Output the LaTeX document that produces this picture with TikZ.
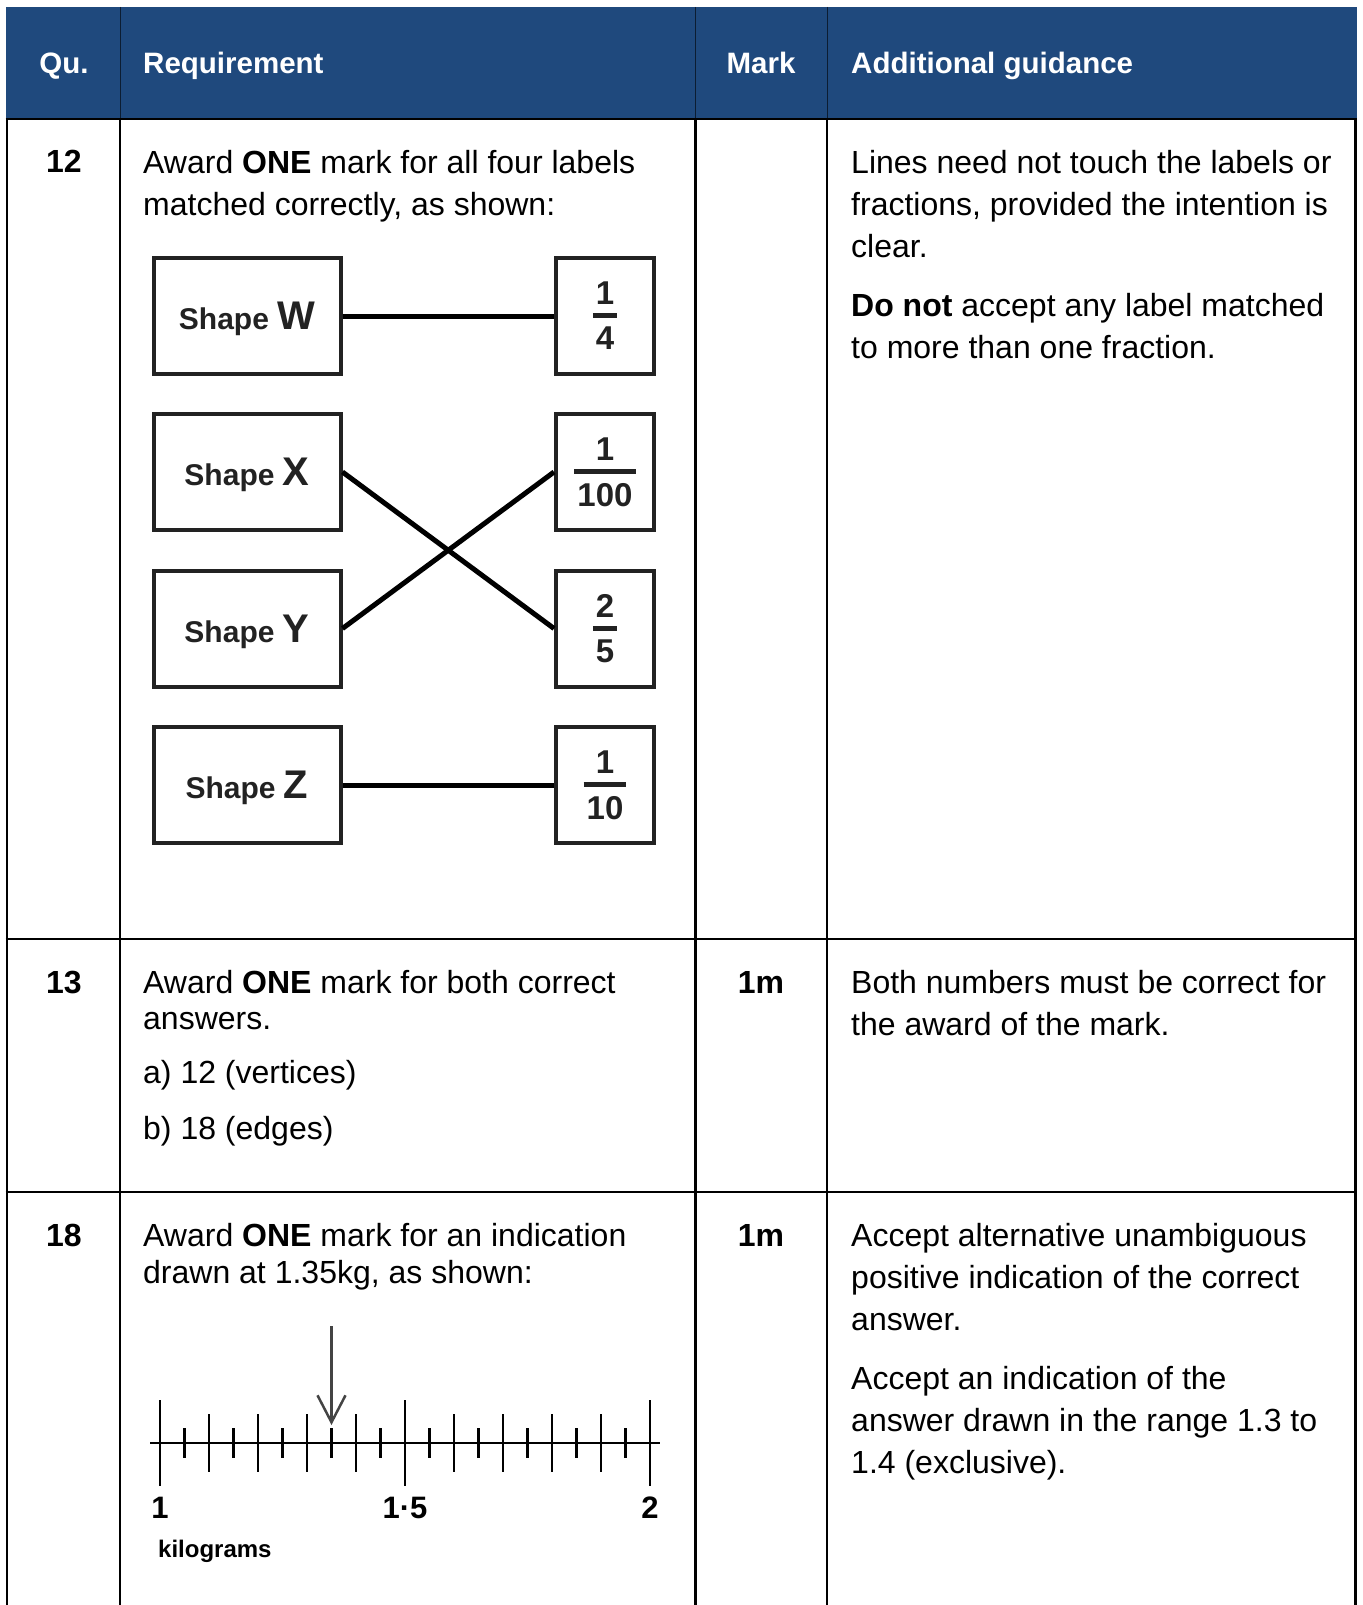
\documentclass[tikz,border=0pt]{standalone}
\usepackage{fontspec}
\setmainfont{Liberation Sans}
\usetikzlibrary{arrows.meta}
\definecolor{hdrblue}{HTML}{1F497D}
\definecolor{inkgray}{HTML}{222222}
\definecolor{arrowgray}{HTML}{444444}

% fraction with a thick bar, as on the matching cards
\newcommand\stackfrac[2]{%
  \setbox0=\hbox{\kern3pt#1\kern3pt}%
  \setbox2=\hbox{\kern3pt#2\kern3pt}%
  \ifdim\wd0<\wd2 \wd0=\wd2 \fi
  \vbox{\hbox to\wd0{\hss#1\hss}\kern8.5pt\hrule height4.8pt width\wd0\kern9pt\hbox to\wd0{\hss#2\hss}}}
\newcommand\shapelabel[1]{{\fontsize{30}{36}\selectfont Shape }{\fontsize{40}{48}\selectfont #1}}

\begin{document}
\begin{tikzpicture}[x=1pt,y=-1pt,
    rule/.style={line width=2.5pt},
    head/.style={text=white,font=\fontsize{29.5}{35}\selectfont\bfseries,inner sep=0pt},
    % node top = top of the first line's letters
    body/.style={font=\fontsize{32}{42}\selectfont,inner sep=0pt,anchor=north west,align=left},
    qnum/.style={font=\fontsize{32}{38}\selectfont\bfseries,inner sep=0pt,anchor=base},
    shapebox/.style={draw=inkgray,line width=4pt,minimum width=187pt,minimum height=116pt,
      text depth=0pt,inner sep=0pt,text=inkgray,font=\bfseries},
    fracbox/.style={shapebox,minimum width=98pt,font=\fontsize{33}{38}\selectfont\bfseries},
    link/.style={line width=5pt},
    tick/.style={line width=2.5pt},
    numlab/.style={font=\fontsize{31}{36}\selectfont\bfseries,inner sep=0pt,anchor=base}]
  \useasboundingbox (0,0) rectangle (1362,1605);

  % table
  \fill[hdrblue] (5.5,7) rectangle (1357,119);
  \foreach \x in {120,695.5,827}
    \draw[line width=1pt,black!60!hdrblue] (\x,7) -- (\x,119);
  \foreach \y in {119,939,1192}
    \draw[rule] (5.5,\y) -- (1357,\y);
  \foreach \x in {7,120,695.5,827,1355.5}
    \draw[rule] (\x,119) -- (\x,1605);

  % header
  \node[head,anchor=base] (hq) at (64,74) {Qu.};
  \node[head,anchor=base west] (hreq) at (143,74) {Requirement};
  \node[head,anchor=base] (hmark) at (761,74) {Mark};
  \node[head,anchor=base west] (hguide) at (851,74) {Additional guidance};

  % question 12
  \node[qnum] (q12) at (64,173) {12};
  \node[body] (req12) at (143,150) {Award \textbf{ONE} mark for all four labels\\matched correctly, as shown:};
  \node[body] (guide12) at (851,150) {Lines need not touch the labels or\\fractions, provided the intention is\\clear.\\[17pt]\textbf{Do not} accept any label matched\\to more than one fraction.};

  \node[shapebox] (W) at (247,316) {\shapelabel{W}};
  \node[shapebox] (X) at (247,472) {\shapelabel{X}};
  \node[shapebox] (Y) at (247,628.5) {\shapelabel{Y}};
  \node[shapebox] (Z) at (247,785) {\shapelabel{Z}};
  \node[fracbox] (quarter) at (605,316) {\stackfrac{1}{4}};
  \node[fracbox] (hundredth) at (605,472) {\stackfrac{1}{100}};
  \node[fracbox] (twofifths) at (605,628.5) {\stackfrac{2}{5}};
  \node[fracbox] (tenth) at (605,785) {\stackfrac{1}{10}};
  \draw[link] (W.east) -- (quarter.west);
  \draw[link] (X.east) -- (twofifths.west);
  \draw[link] (Y.east) -- (hundredth.west);
  \draw[link] (Z.east) -- (tenth.west);

  % question 13
  \node[qnum] (q13) at (64,993) {13};
  \node[body,font=\fontsize{32}{36}\selectfont] (req13) at (143,970) {Award \textbf{ONE} mark for both correct\\answers.\\[18pt]a) 12 (vertices)\\[20pt]b) 18 (edges)};
  \node[qnum] (mark13) at (761,993) {1m};
  \node[body] (guide13) at (851,970) {Both numbers must be correct for\\the award of the mark.};

  % question 18
  \node[qnum] (q18) at (64,1246) {18};
  \node[body,font=\fontsize{32}{37}\selectfont] (req18) at (143,1223) {Award \textbf{ONE} mark for an indication\\drawn at 1.35kg, as shown:};
  \node[qnum] (mark18) at (761,1246) {1m};
  \node[body] (guide18) at (851,1223) {Accept alternative unambiguous\\positive indication of the correct\\answer.\\[17pt]Accept an indication of the\\answer drawn in the range 1.3 to\\1.4 (exclusive).};

  % number line
  \draw[tick] (150,1443) -- (660,1443);
  \foreach \i in {0,...,20}{
    \pgfmathsetmacro\len{ifthenelse(mod(\i,10)==0,43,ifthenelse(mod(\i,2)==0,29,15))}
    \draw[tick] (160+24.5*\i,1443-\len) -- (160+24.5*\i,1443+\len);
  }
  \coordinate (tail) at (331.5,1326);
  \coordinate (tip) at (331.5,1425);
  \draw[arrowgray,line width=2.5pt,-{Straight Barb[length=27pt,width=28pt]}] (tail) -- (tip);
  \node[numlab] (lone) at (160,1518) {1};
  \node[numlab] (lhalf) at (405,1518) {1·5};
  \node[numlab] (ltwo) at (650,1518) {2};
  \node[font=\fontsize{24}{28}\selectfont\bfseries,inner sep=0pt,anchor=base west] (kg) at (158,1557) {kilograms};
\end{tikzpicture}
\end{document}
